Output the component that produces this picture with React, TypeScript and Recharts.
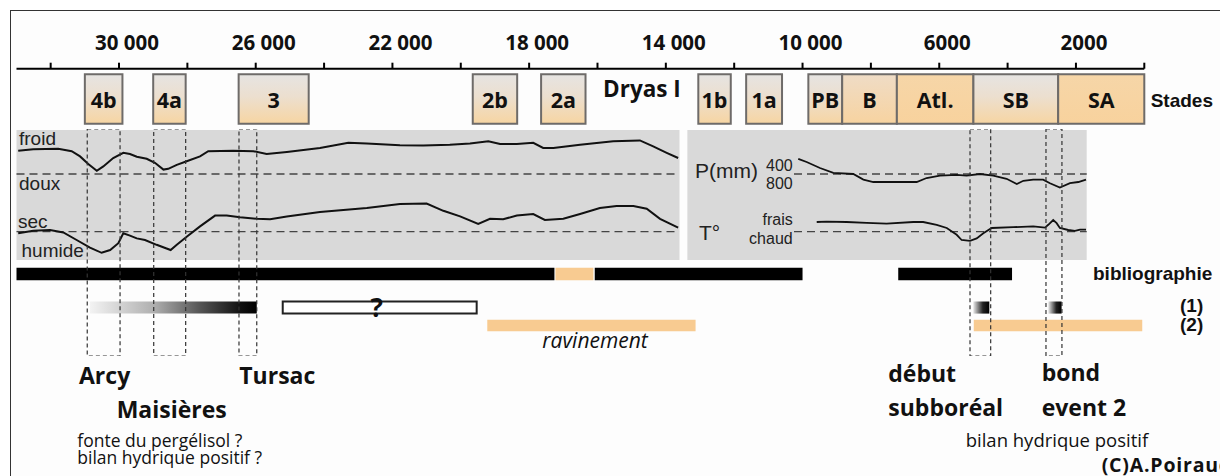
import React from 'react';
import { ComposedChart, XAxis, YAxis, ReferenceArea, ReferenceLine, Line } from 'recharts';

// ---------- DATA ----------
const AXIS_TICKS = [32000, 30000, 28000, 26000, 24000, 22000, 20000, 18000, 16000, 14000, 12000, 10000, 8000, 6000, 4000, 2000, 0];
const TICK_LABELS = [
  { year: 30000, label: '30 000' },
  { year: 26000, label: '26 000' },
  { year: 22000, label: '22 000' },
  { year: 18000, label: '18 000' },
  { year: 14000, label: '14 000' },
  { year: 10000, label: '10 000' },
  { year: 6000, label: '6000' },
  { year: 2000, label: '2000' },
];

const STAGES = [
  { name: '4b', start: 31000, end: 29900, look: 'g' },
  { name: '4a', start: 29000, end: 28050, look: 'g' },
  { name: '3', start: 26500, end: 24450, look: 'g' },
  { name: '2b', start: 19650, end: 18350, look: 'g' },
  { name: '2a', start: 17650, end: 16350, look: 'g' },
  { name: 'Dryas I', start: 16350, end: 13050, look: 'none' },
  { name: '1b', start: 13050, end: 12100, look: 'g' },
  { name: '1a', start: 11650, end: 10600, look: 'g' },
  { name: 'PB', start: 9830, end: 8840, look: 'g' },
  { name: 'B', start: 8840, end: 7240, look: 'b' },
  { name: 'Atl.', start: 7240, end: 5000, look: 'o' },
  { name: 'SB', start: 5000, end: 2520, look: 'g' },
  { name: 'SA', start: 2520, end: 0, look: 'o' },
];

// climate index: 0 = threshold (dashed line), positive = froid / sec
const TEMP_LEFT = [
  [32950, 0.58], [32510, 0.62], [31780, 0.63], [31385, 0.57], [31140, 0.44], [30900, 0.25], [30650, 0.08],
  [30460, 0.19], [30170, 0.4], [29875, 0.53], [29680, 0.5], [29480, 0.43], [29190, 0.38], [28950, 0.28],
  [28700, 0.11], [28560, 0.13], [28310, 0.23], [28020, 0.32], [27630, 0.44], [27390, 0.57], [26660, 0.58],
  [26070, 0.57], [25680, 0.5], [25090, 0.55], [24120, 0.65], [23290, 0.78], [22750, 0.76], [21780, 0.72],
  [21100, 0.71], [20320, 0.73], [19730, 0.76], [19195, 0.82], [18850, 0.75], [18360, 0.75], [17880, 0.78],
  [17590, 0.65], [17290, 0.65], [16510, 0.73], [15540, 0.82], [14760, 0.84], [14370, 0.69], [13975, 0.53],
  [13640, 0.4],
];
const HUM_LEFT = [
  [32950, -0.04], [32510, 0.02], [32020, 0.04], [31630, -0.02], [31240, -0.21], [30850, -0.4], [30510, -0.53],
  [30260, -0.46], [30020, -0.29], [29875, -0.04], [29680, -0.1], [29480, -0.17], [29240, -0.21], [28900, -0.33],
  [28490, -0.46], [28310, -0.33], [28020, -0.13], [27630, 0.13], [27190, 0.4], [26850, 0.4], [26460, 0.36],
  [25970, 0.32], [25580, 0.31], [25090, 0.38], [24120, 0.49], [22750, 0.59], [21780, 0.69], [21000, 0.7],
  [20510, 0.52], [20020, 0.38], [19490, 0.19], [19145, 0.32], [18760, 0.31], [18360, 0.4], [17880, 0.44],
  [17540, 0.29], [17000, 0.32], [16510, 0.44], [15930, 0.59], [15440, 0.64], [14950, 0.64], [14560, 0.57],
  [14170, 0.32], [13640, 0.1],
];
// positive = 400 mm side (drier)
const PREC_RIGHT = [
  [10125, 0.38], [9880, 0.3], [9490, 0.15], [9100, 0.03], [8515, 0.0], [8220, -0.14], [7930, -0.2],
  [7345, -0.2], [6660, -0.2], [6370, -0.1], [5980, -0.04], [5490, -0.02], [5200, -0.04], [4810, 0.0],
  [4420, -0.04], [4030, -0.12], [3730, -0.25], [3540, -0.17], [3250, -0.14], [2960, -0.14], [2760, -0.23],
  [2470, -0.34], [2175, -0.23], [1930, -0.2], [1705, -0.14],
];
// positive = frais
const TEMP_RIGHT = [
  [9585, 0.24], [9295, 0.25], [8710, 0.24], [8125, 0.22], [7540, 0.2], [6760, 0.24], [6470, 0.24],
  [6075, 0.17], [5780, 0.09], [5490, -0.08], [5345, -0.21], [5100, -0.23], [4905, -0.17], [4710, -0.04],
  [4465, 0.09], [3835, 0.11], [3250, 0.13], [2905, 0.1], [2810, 0.17], [2665, 0.29], [2565, 0.21],
  [2470, 0.09], [2225, 0.04], [2030, 0.02], [1880, 0.05], [1705, 0.05],
];

const PANELS = [
  { from: 33000, to: 13600 },
  { from: 13370, to: 1685 },
];
const THRESHOLDS_LEFT = { from: 33000, to: 13600 };
const THRESHOLDS_RIGHT = { from: 10250, to: 1685 };

const EVENTS = [
  { name: 'Arcy', from: 30930, to: 29970 },
  { name: 'Maisières', from: 28985, to: 28050 },
  { name: 'Tursac', from: 26490, to: 25970 },
  { name: 'début subboréal', from: 5100, to: 4495 },
  { name: 'bond event 2', from: 2877, to: 2410 },
];

const BIBLIO = [
  { from: 33000, to: 17260, kind: 'black' },
  { from: 17230, to: 16120, kind: 'orange' },
  { from: 16080, to: 10000, kind: 'black' },
  { from: 7200, to: 3870, kind: 'black' },
];
const ROW1_GRADIENT = [
  { from: 30850, to: 25970, grad: 'wbL' },
  { from: 5005, to: 4535, grad: 'wbS' },
  { from: 2810, to: 2420, grad: 'wbS' },
];
const ROW1_UNCERTAIN = [{ from: 25210, to: 19535, label: '?' }];
const ROW2_ORANGE = [
  { from: 19225, to: 13130 },
  { from: 4990, to: 60 },
];

// ---------- LAYOUT ----------
const W = 1220;
const MX = { left: 16.5, right: 75.7 };
const X_DOMAIN: [number, number] = [0, 33000];
const ROWS = { biblio: [7.7, 20.3], r1: [41.5, 53.6], r2: [59.8, 71.2] };
const ORANGE = '#f8cb91';
const SANS = "'Liberation Sans', Arial, sans-serif";
const OPEN = "'Open Sans', sans-serif";

const pts = (a: number[][]) => a.map(([year, v]) => ({ year, v }));

const stageFill = (look: string) =>
  look === 'g' ? 'url(#stG)' : look === 'b' ? 'url(#stB)' : look === 'o' ? 'url(#stO)' : 'none';

const AxisTick = (props: any) => {
  const { x, payload } = props;
  const t = TICK_LABELS.find((d) => d.year === payload.value);
  if (!t) return <g />;
  return (
    <text x={x + 8} y={50} textAnchor="middle" fontFamily={OPEN} fontWeight={700} fontSize={20.5} fill="#111">
      {t.label}
    </text>
  );
};

const stageLabel = (name: string, isText: boolean) => (props: any) => {
  const vb = props.viewBox || {};
  const cx = vb.x + vb.width / 2;
  const cy = vb.y + vb.height / 2;
  return (
    <text
      x={cx}
      y={isText ? cy - 2 : cy + 9}
      textAnchor="middle"
      fontFamily={OPEN}
      fontWeight={700}
      fontSize={isText ? 22.5 : 21.5}
      fill="#111"
    >
      {name}
    </text>
  );
};

const qLabel = (txt: string) => (props: any) => {
  const vb = props.viewBox || {};
  return (
    <text x={vb.x + vb.width / 2 - 3} y={vb.y + vb.height / 2 + 9} textAnchor="middle" fontFamily={OPEN} fontWeight={700} fontSize={26} fill="#111">
      {txt}
    </text>
  );
};

const absStyle = (top: number): React.CSSProperties => ({ position: 'absolute', left: 0, top });

export default function App() {
  const axisData = AXIS_TICKS.map((year) => ({ year, lane: 0.5 }));
  return (
    <div style={{ position: 'absolute', left: 0, top: 0, width: W, height: 476, background: '#fff', overflow: 'hidden' }}>
      <svg width="0" height="0" style={{ position: 'absolute' }}>
        <defs>
          <linearGradient id="stG" x1="0" y1="0" x2="0" y2="1">
            <stop offset="0" stopColor="#e6e4e2" />
            <stop offset="0.45" stopColor="#ecdfcf" />
            <stop offset="1" stopColor="#f7d5a2" />
          </linearGradient>
          <linearGradient id="stB" x1="0" y1="0" x2="0" y2="1">
            <stop offset="0" stopColor="#efdcc6" />
            <stop offset="1" stopColor="#f7d3a0" />
          </linearGradient>
          <linearGradient id="stO" x1="0" y1="0" x2="0" y2="1">
            <stop offset="0" stopColor="#f6d6a8" />
            <stop offset="1" stopColor="#f8d29d" />
          </linearGradient>
          <linearGradient id="wbL" x1="0" y1="0" x2="1" y2="0">
            <stop offset="0" stopColor="#f3f3f3" />
            <stop offset="0.38" stopColor="#b0b0b0" />
            <stop offset="0.66" stopColor="#555" />
            <stop offset="0.9" stopColor="#111" />
            <stop offset="1" stopColor="#000" />
          </linearGradient>
          <linearGradient id="wbS" x1="0" y1="0" x2="1" y2="0">
            <stop offset="0" stopColor="#e8e8e8" />
            <stop offset="0.6" stopColor="#222" />
            <stop offset="1" stopColor="#000" />
          </linearGradient>
        </defs>
      </svg>

      {/* frame */}
      <div style={{ position: 'absolute', left: 10, top: 10, width: 1400, height: 600, borderLeft: '1.5px solid #333', borderTop: '1.5px solid #333', background: '#fdfdfd' }} />

      {/* Axis + stages */}
      <div style={absStyle(0)}>
        <ComposedChart width={W} height={130} data={axisData} margin={{ top: 0, bottom: 0, left: MX.left, right: MX.right }}>
          <XAxis
            dataKey="year"
            type="number"
            domain={X_DOMAIN}
            reversed
            orientation="top"
            height={68.7}
            ticks={AXIS_TICKS}
            interval={0}
            tickSize={6}
            tick={<AxisTick />}
            axisLine={{ stroke: '#000', strokeWidth: 2 }}
            tickLine={{ stroke: '#000', strokeWidth: 2 }}
            allowDataOverflow
          />
          <YAxis hide type="number" dataKey="lane" domain={[0, 1]} allowDataOverflow />
          {STAGES.map((s) => (
            <ReferenceArea
              key={s.name}
              x1={s.start}
              x2={s.end}
              y1={0.1}
              y2={0.91}
              ifOverflow="visible"
              fill={stageFill(s.look)}
              fillOpacity={1}
              stroke={s.look === 'none' ? 'none' : '#6e6b69'}
              strokeWidth={2}
              label={stageLabel(s.name, s.look === 'none')}
            />
          ))}
        </ComposedChart>
      </div>

      {/* climate panels */}
      <div style={absStyle(130)}>
        <ComposedChart width={W} height={130} margin={{ top: 0, bottom: 0, left: MX.left, right: MX.right }}>
          <XAxis dataKey="year" type="number" domain={X_DOMAIN} reversed hide allowDataOverflow />
          <YAxis yAxisId="tl" hide type="number" domain={[-2.15, 1.1]} allowDataOverflow />
          <YAxis yAxisId="hl" hide type="number" domain={[-0.71, 2.54]} allowDataOverflow />
          <YAxis yAxisId="pr" hide type="number" domain={[-2.15, 1.1]} allowDataOverflow />
          <YAxis yAxisId="tr" hide type="number" domain={[-0.71, 2.54]} allowDataOverflow />
          {PANELS.map((p, i) => (
            <ReferenceArea key={i} yAxisId="tl" x1={p.from} x2={p.to} fill="#d9d9d9" fillOpacity={1} stroke="none" />
          ))}
          <ReferenceLine yAxisId="tl" segment={[{ x: THRESHOLDS_LEFT.from, y: 0 }, { x: THRESHOLDS_LEFT.to, y: 0 }]} stroke="#444" strokeWidth={1.3} strokeDasharray="8 5" />
          <ReferenceLine yAxisId="hl" segment={[{ x: THRESHOLDS_LEFT.from, y: 0 }, { x: THRESHOLDS_LEFT.to, y: 0 }]} stroke="#444" strokeWidth={1.3} strokeDasharray="8 5" />
          <ReferenceLine yAxisId="pr" segment={[{ x: THRESHOLDS_RIGHT.from, y: 0 }, { x: THRESHOLDS_RIGHT.to, y: 0 }]} stroke="#444" strokeWidth={1.3} strokeDasharray="8 5" />
          <ReferenceLine yAxisId="tr" segment={[{ x: THRESHOLDS_RIGHT.from, y: 0 }, { x: THRESHOLDS_RIGHT.to, y: 0 }]} stroke="#444" strokeWidth={1.3} strokeDasharray="8 5" />
          <Line yAxisId="tl" data={pts(TEMP_LEFT)} dataKey="v" stroke="#111" strokeWidth={2} dot={false} isAnimationActive={false} type="linear" />
          <Line yAxisId="hl" data={pts(HUM_LEFT)} dataKey="v" stroke="#111" strokeWidth={2} dot={false} isAnimationActive={false} type="linear" />
          <Line yAxisId="pr" data={pts(PREC_RIGHT)} dataKey="v" stroke="#111" strokeWidth={1.8} dot={false} isAnimationActive={false} type="linear" />
          <Line yAxisId="tr" data={pts(TEMP_RIGHT)} dataKey="v" stroke="#111" strokeWidth={1.8} dot={false} isAnimationActive={false} type="linear" />
        </ComposedChart>
      </div>

      {/* bars */}
      <div style={absStyle(260)}>
        <ComposedChart width={W} height={100} data={axisData.map((d) => ({ year: d.year, lane: 50 }))} margin={{ top: 0, bottom: 0, left: MX.left, right: MX.right }}>
          <XAxis dataKey="year" type="number" domain={X_DOMAIN} reversed hide allowDataOverflow />
          <YAxis hide type="number" dataKey="lane" domain={[0, 100]} reversed allowDataOverflow />
          {BIBLIO.map((b, i) => (
            <ReferenceArea key={'b' + i} x1={b.from} x2={b.to} y1={ROWS.biblio[0]} y2={ROWS.biblio[1]} ifOverflow="visible" fill={b.kind === 'black' ? '#000' : ORANGE} fillOpacity={1} stroke="none" />
          ))}
          {ROW1_GRADIENT.map((b, i) => (
            <ReferenceArea key={'g' + i} x1={b.from} x2={b.to} y1={ROWS.r1[0]} y2={ROWS.r1[1]} ifOverflow="visible" fill={`url(#${b.grad})`} fillOpacity={1} stroke="none" />
          ))}
          {ROW1_UNCERTAIN.map((b, i) => (
            <ReferenceArea key={'u' + i} x1={b.from} x2={b.to} y1={ROWS.r1[0]} y2={ROWS.r1[1]} ifOverflow="visible" fill="#fff" fillOpacity={1} stroke="#222" strokeWidth={2} label={qLabel(b.label)} />
          ))}
          {ROW2_ORANGE.map((b, i) => (
            <ReferenceArea key={'o' + i} x1={b.from} x2={b.to} y1={ROWS.r2[0]} y2={ROWS.r2[1]} ifOverflow="visible" fill={ORANGE} fillOpacity={1} stroke="none" />
          ))}
        </ComposedChart>
      </div>

      {/* event windows */}
      <div style={absStyle(129)}>
        <ComposedChart width={W} height={227} data={axisData} margin={{ top: 0, bottom: 0, left: MX.left, right: MX.right }}>
          <XAxis dataKey="year" type="number" domain={X_DOMAIN} reversed hide allowDataOverflow />
          <YAxis hide type="number" dataKey="lane" domain={[0, 1]} allowDataOverflow />
          {EVENTS.map((e) => (
            <ReferenceArea key={e.name} x1={e.from} x2={e.to} y1={0} y2={1} ifOverflow="visible" fill="none" fillOpacity={0} stroke="#333" strokeWidth={1.2} strokeDasharray="4 3" />
          ))}
        </ComposedChart>
      </div>

      {/* annotations */}
      <svg width={W} height={476} style={{ position: 'absolute', left: 0, top: 0, pointerEvents: 'none' }}>
        <g fontFamily={SANS} fill="#222" fontSize={19}>
          <text x={19} y={145}>froid</text>
          <text x={19} y={190}>doux</text>
          <text x={18} y={227.5}>sec</text>
          <text x={21.5} y={256.5}>humide</text>
          <text x={695} y={178} fontSize={21}>P(mm)</text>
          <text x={766} y={170.5} fontSize={16}>400</text>
          <text x={766} y={189} fontSize={16}>800</text>
          <text x={699} y={240} fontSize={21}>T°</text>
          <text x={792.7} y={225.3} fontSize={16} textAnchor="end">frais</text>
          <text x={792.7} y={243.5} fontSize={16} textAnchor="end">chaud</text>
        </g>
        <g fontFamily={SANS} fill="#111" fontSize={19} fontWeight={700}>
          <text x={1150.7} y={106.5}>Stades</text>
          <text x={1093} y={279.5}>bibliographie</text>
          <text x={1180} y={312.3}>(1)</text>
          <text x={1180} y={331}>(2)</text>
        </g>
        <g fontFamily={OPEN} fill="#111" fontSize={23} fontWeight={700}>
          <text x={79} y={384.3}>Arcy</text>
          <text x={239.3} y={384}>Tursac</text>
          <text x={116.7} y={418.3}>Maisières</text>
          <text x={888.3} y={381.7}>début</text>
          <text x={888.3} y={416}>subboréal</text>
          <text x={1041.7} y={381}>bond</text>
          <text x={1041.7} y={416}>event 2</text>
        </g>
        <g fontFamily={OPEN} fill="#111" fontSize={17.5}>
          <text x={77.3} y={446.7}>fonte du pergélisol ?</text>
          <text x={77.3} y={464.3}>bilan hydrique positif ?</text>
          <text x={965.7} y={446.7} fontSize={18.5}>bilan hydrique positif</text>
        </g>
        <text x={595} y={348.3} textAnchor="middle" fontFamily={OPEN} fontStyle="italic" fontSize={21} fill="#111">ravinement</text>
        <text x={1101.7} y={471.7} fontFamily={OPEN} fontWeight={700} fontSize={19.5} letterSpacing={0.8} fill="#111">(C)A.Poiraud</text>
      </svg>
    </div>
  );
}
